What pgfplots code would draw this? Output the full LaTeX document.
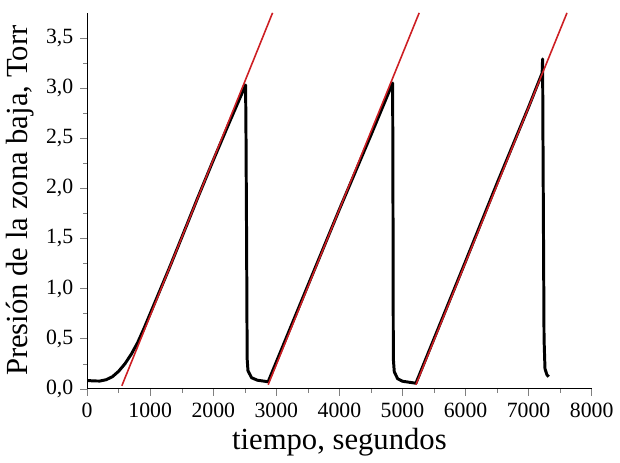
\documentclass[border=0pt]{standalone}
\usepackage{fontspec}
\setmainfont{Liberation Serif}
\usepackage{pgfplots}
\pgfplotsset{compat=1.18}
\definecolor{fitred}{RGB}{205,30,35}

\begin{document}
\begin{tikzpicture}
\begin{axis}[
  scale only axis,
  width=255pt, height=190pt,
  xmin=0, xmax=8000,
  ymin=0, ymax=3.75,
  axis x line*=bottom,
  axis y line*=left,
  tick align=outside,
  major tick length=3.5pt,
  minor tick length=2pt,
  xtick={0,1000,...,8000},
  ytick={0,0.5,...,3.5},
  minor x tick num=1,
  minor y tick num=1,
  /pgf/number format/assume math mode=true,
  x tick label style={font=\fontsize{11}{12}\selectfont, /pgf/number format/1000 sep={}},
  y tick label style={font=\fontsize{11}{12}\selectfont, /pgf/number format/.cd, use comma, fixed, fixed zerofill, precision=1},
  xlabel={tiempo, segundos},
  ylabel={Presión de la zona baja, Torr},
  label style={font=\fontsize{15.5}{17}\selectfont},
  xlabel style={yshift=1.5pt},
  ylabel style={yshift=-1pt},
  clip=true,
]
% measured pressure
\addplot[black, line width=1.5pt, line join=round] coordinates {
  (0,0.083)(100,0.078)(200,0.077)(300,0.09)(400,0.12)(500,0.175)(600,0.25)
  (700,0.345)(800,0.46)(900,0.60)(1000,0.75)(1100,0.90)(1200,1.05)(1300,1.20)
  (1400,1.355)(1500,1.51)(1750,1.90)(2000,2.28)(2250,2.65)(2512,3.03)
  (2518,2.6)(2528,1.5)(2537,0.3)(2550,0.18)(2607,0.11)(2700,0.085)(2870,0.07)
  (3500,1.03)(4000,1.79)(4500,2.53)(4844,3.05)
  (4849,2.0)(4855,0.3)(4870,0.17)(4923,0.10)(5000,0.075)(5213,0.055)
  (6000,1.27)(6500,2.05)(7000,2.81)(7215,3.15)
  (7222,3.29)(7228,2.5)(7245,0.5)(7260,0.2)(7290,0.14)(7319,0.12)
};
% linear fits
\addplot[fitred, line width=0.8pt] coordinates {(550,0.03)(2940,3.75)};
\addplot[fitred, line width=0.8pt] coordinates {(2870,0.04)(5265,3.75)};
\addplot[fitred, line width=0.8pt] coordinates {(5213,0.04)(7609,3.75)};
\end{axis}
\path (current axis.north east) ++(0,6.5pt);
\end{tikzpicture}
\end{document}
